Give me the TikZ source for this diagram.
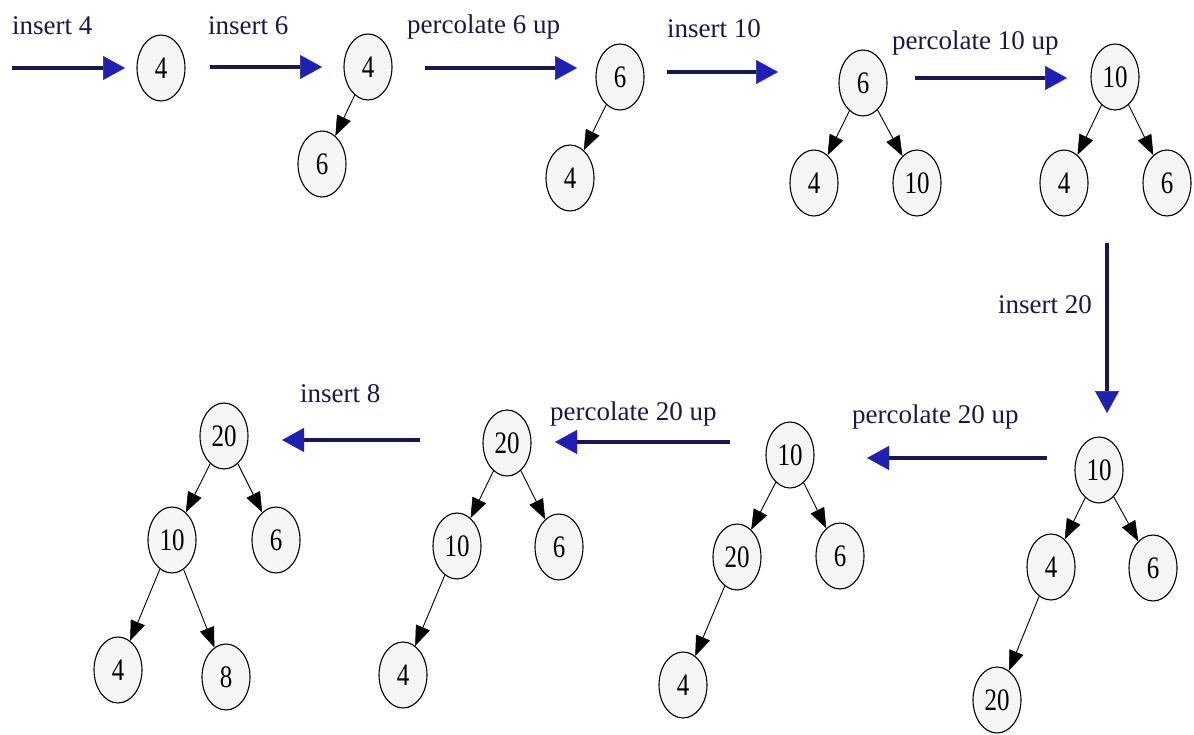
\documentclass[tikz,border=0pt]{standalone}
\usepackage{fontspec}
\setmainfont{Liberation Serif}
\usetikzlibrary{shapes.geometric,arrows.meta}
\definecolor{navy}{RGB}{24,24,78}
\definecolor{headblue}{RGB}{32,32,180}
\newcommand{\tallnum}[1]{\scalebox{1}[1.25]{#1}}
\begin{document}
\begin{tikzpicture}[x=1pt,y=-1pt,
  hnode/.style={ellipse,draw=black,line width=1.1pt,fill=gray!8,minimum width=48pt,minimum height=66pt,inner sep=0pt,font=\fontsize{25}{25}\selectfont},
  edge/.style={draw=black,line width=0.9pt,-{Triangle[length=20pt,width=15pt,line width=0.5pt]}},
  steparrow/.style={draw=navy,line width=3.5pt,-{Triangle[length=22pt,width=24pt,fill=headblue,color=headblue,line width=0.5pt]}},
  lbl/.style={anchor=base west,text=navy,inner sep=0pt,font=\fontsize{27}{27}\selectfont}]
\useasboundingbox (0,0) rectangle (1194,735);

% step labels
\node[lbl] (l1) at (12,35) {insert 4};
\node[lbl] (l2) at (208,35) {insert 6};
\node[lbl] (l3) at (407,34) {percolate 6 up};
\node[lbl] (l4) at (667,38) {insert 10};
\node[lbl] (l5) at (892,50) {percolate 10 up};
\node[lbl] (l6) at (998,313) {insert 20};
\node[lbl] (l7) at (852,423) {percolate 20 up};
\node[lbl] (l8) at (550,420) {percolate 20 up};
\node[lbl] (l9) at (300,402) {insert 8};

% step arrow ends
\coordinate (a1s) at (12,68);   \coordinate (a1e) at (125,68);
\coordinate (a2s) at (210,67);  \coordinate (a2e) at (322,67);
\coordinate (a3s) at (425,68);  \coordinate (a3e) at (577,68);
\coordinate (a4s) at (667,72);  \coordinate (a4e) at (778,72);
\coordinate (a5s) at (915,78);  \coordinate (a5e) at (1067,78);
\coordinate (a6s) at (1107,243);\coordinate (a6e) at (1107,413);
\coordinate (a7s) at (1047,458);\coordinate (a7e) at (867,458);
\coordinate (a8s) at (730,442); \coordinate (a8e) at (555,442);
\coordinate (a9s) at (420,440); \coordinate (a9e) at (282,440);

\foreach \i in {1,...,9}{\draw[steparrow] (a\i s) -- (a\i e);}

% tree 1
\node[hnode] (n1) at (161,68) {\tallnum{4}};
% tree 2
\node[hnode] (n2a) at (368,67) {\tallnum{4}};
\node[hnode] (n2b) at (322,164) {\tallnum{6}};
% tree 3
\node[hnode] (n3a) at (620,77) {\tallnum{6}};
\node[hnode] (n3b) at (570,178) {\tallnum{4}};
% tree 4
\node[hnode] (n4a) at (863,83) {\tallnum{6}};
\node[hnode] (n4b) at (814,183) {\tallnum{4}};
\node[hnode] (n4c) at (917,183) {\tallnum{10}};
% tree 5
\node[hnode] (n5a) at (1115,77) {\tallnum{10}};
\node[hnode] (n5b) at (1064,183) {\tallnum{4}};
\node[hnode] (n5c) at (1167,183) {\tallnum{6}};
% tree 6
\node[hnode] (n6a) at (1099,470) {\tallnum{10}};
\node[hnode] (n6b) at (1051,567) {\tallnum{4}};
\node[hnode] (n6c) at (1153,568) {\tallnum{6}};
\node[hnode] (n6d) at (997,700) {\tallnum{20}};
% tree 7
\node[hnode] (n7a) at (790,455) {\tallnum{10}};
\node[hnode] (n7b) at (737,557) {\tallnum{20}};
\node[hnode] (n7c) at (840,556) {\tallnum{6}};
\node[hnode] (n7d) at (683,685) {\tallnum{4}};
% tree 8
\node[hnode] (n8a) at (507,443) {\tallnum{20}};
\node[hnode] (n8b) at (457,546) {\tallnum{10}};
\node[hnode] (n8c) at (559,547) {\tallnum{6}};
\node[hnode] (n8d) at (403,675) {\tallnum{4}};
% tree 9
\node[hnode] (n9a) at (224,436) {\tallnum{20}};
\node[hnode] (n9b) at (172,540) {\tallnum{10}};
\node[hnode] (n9c) at (276,540) {\tallnum{6}};
\node[hnode] (n9d) at (118,670) {\tallnum{4}};
\node[hnode] (n9e) at (226,677) {\tallnum{8}};

\foreach \p/\c in {n2a/n2b,n3a/n3b,n4a/n4b,n4a/n4c,n5a/n5b,n5a/n5c,
  n6a/n6b,n6a/n6c,n6b/n6d,n7a/n7b,n7a/n7c,n7b/n7d,
  n8a/n8b,n8a/n8c,n8b/n8d,n9a/n9b,n9a/n9c,n9b/n9d,n9b/n9e}
  {\draw[edge] (\p) -- (\c);}
\end{tikzpicture}
\end{document}
